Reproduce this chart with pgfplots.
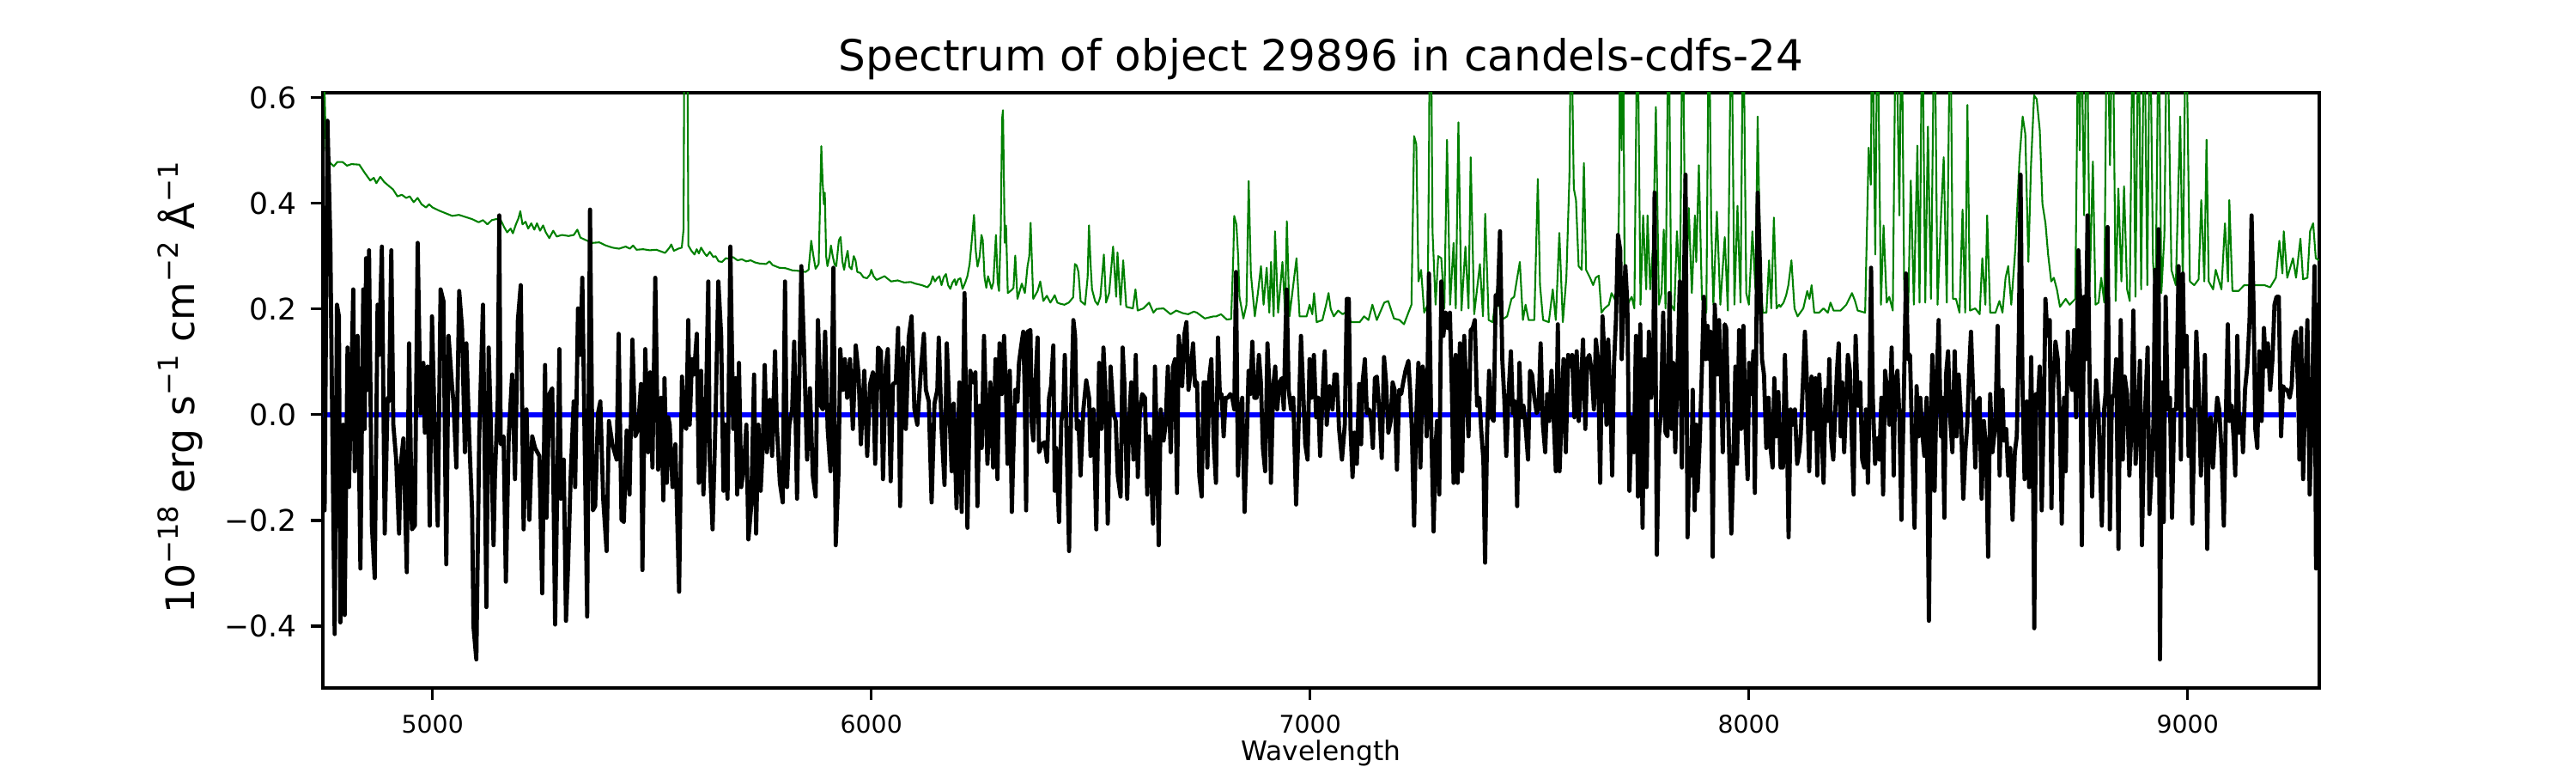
\documentclass[border=0pt]{standalone}
\usepackage{fontspec}
\setmainfont{DejaVu Sans}
\usepackage{pgfplots}
\pgfplotsset{compat=1.18}
\newcommand\sups[1]{\raisebox{0.42em}{\fontsize{7.7}{9}\selectfont #1}}
\begin{document}
\begin{tikzpicture}
\useasboundingbox (0,0) rectangle (720pt,216pt);
\begin{axis}[
  at={(90.24pt,23.76pt)}, anchor=south west,
  scale only axis, width=558pt, height=166.32pt,
  xmin=4750, xmax=9300, ymin=-0.517, ymax=0.609,
  axis line style={line width=0.78pt},
  tick align=outside, xtick pos=bottom, ytick pos=left,
  major tick length=3.43pt,
  tick style={line width=0.78pt, black},
  xtick={5000,6000,7000,8000,9000},
  xticklabels={5000,6000,7000,8000,9000},
  ytick={-0.4,-0.2,0,0.2,0.4,0.6},
  yticklabels={−0.4,−0.2,0.0,0.2,0.4,0.6},
  xticklabel style={font=\fontsize{6.8}{8}\selectfont, inner sep=0pt, yshift=-3.94pt},
  yticklabel style={font=\fontsize{8.3}{10}\selectfont, inner sep=0pt, xshift=-3.77pt},
  every axis plot/.append style={line join=round},
]
\addplot[color={rgb,255:red,0;green,128;blue,0}, line width=0.5pt] coordinates {
(4750,0.80)(4753,0.65)(4757,0.50)(4767,0.476)(4775,0.470)(4783,0.478)(4795,0.478)(4805,0.471)(4815,0.474)(4833,0.473)(4845,0.458)(4858,0.443)(4866,0.448)(4872,0.438)(4881,0.450)(4890,0.440)(4900,0.433)(4910,0.426)(4920,0.413)(4930,0.416)(4940,0.410)(4948,0.413)(4957,0.402)(4966,0.410)(4975,0.398)(4985,0.392)(4992,0.398)(5000,0.392)(5015,0.386)(5030,0.381)(5045,0.376)(5060,0.378)(5075,0.374)(5090,0.370)(5105,0.364)(5115,0.368)(5125,0.360)(5135,0.368)(5145,0.370)(5155,0.369)(5163,0.355)(5170,0.345)(5178,0.352)(5183,0.343)(5190,0.360)(5196,0.372)(5200,0.385)(5205,0.360)(5212,0.365)(5218,0.352)(5225,0.362)(5232,0.350)(5238,0.362)(5245,0.348)(5252,0.358)(5258,0.345)(5266,0.334)(5275,0.348)(5283,0.337)(5295,0.340)(5310,0.338)(5322,0.340)(5330,0.350)(5337,0.335)(5350,0.330)(5365,0.325)(5380,0.326)(5395,0.320)(5410,0.316)(5425,0.314)(5440,0.318)(5450,0.314)(5457,0.320)(5465,0.312)(5480,0.313)(5495,0.311)(5510,0.312)
(5520,0.309)(5530,0.306)(5540,0.316)(5544,0.322)(5550,0.310)(5560,0.314)(5568,0.316)(5572,0.35)(5574,0.75)(5578,0.80)(5581,0.70)(5583,0.320)(5590,0.310)(5597,0.303)(5602,0.313)(5607,0.305)(5612,0.316)(5620,0.305)(5625,0.300)(5632,0.308)(5640,0.298)(5645,0.300)(5652,0.290)(5660,0.289)(5668,0.296)(5676,0.295)(5685,0.298)(5695,0.292)(5705,0.294)(5715,0.290)(5725,0.292)(5735,0.288)(5745,0.286)(5760,0.285)(5768,0.290)(5775,0.283)(5790,0.278)(5805,0.277)(5820,0.273)(5835,0.272)(5850,0.270)(5857,0.274)(5863,0.329)(5868,0.300)(5873,0.276)(5880,0.285)(5886,0.508)(5889,0.440)(5892,0.398)(5894,0.42)(5897,0.300)(5900,0.281)(5905,0.300)(5908,0.320)(5912,0.300)(5916,0.285)(5920,0.281)(5926,0.330)(5930,0.336)(5934,0.290)(5938,0.274)(5942,0.295)(5946,0.310)(5950,0.280)(5955,0.275)(5960,0.300)(5964,0.292)(5968,0.270)(5975,0.268)(5982,0.260)(5990,0.258)(5997,0.265)(6000,0.274)(6005,0.262)(6012,0.255)(6020,0.258)(6030,0.262)(6036,0.258)(6045,0.252)(6060,0.254)(6075,0.250)(6090,0.251)(6100,0.248)(6115,0.245)(6128,0.241)(6135,0.248)(6140,0.262)(6145,0.252)(6150,0.258)(6155,0.262)(6160,0.245)(6165,0.260)(6170,0.266)(6175,0.245)(6180,0.238)(6185,0.250)(6190,0.256)(6193,0.245)(6198,0.256)(6203,0.258)(6208,0.238)(6214,0.250)(6219,0.262)(6224,0.285)(6229,0.330)(6234,0.378)(6238,0.310)(6242,0.280)(6247,0.300)(6251,0.340)(6254,0.330)(6258,0.260)(6262,0.240)(6266,0.262)(6270,0.250)(6274,0.238)(6278,0.250)
(6284,0.340)(6288,0.250)(6291,0.234)(6295,0.35)(6298,0.560)(6300,0.576)(6302,0.46)(6304,0.325)(6307,0.358)(6311,0.230)(6320,0.236)(6324,0.240)(6328,0.301)(6333,0.219)(6343,0.248)(6350,0.230)(6356,0.281)(6360,0.300)(6363,0.363)(6366,0.290)(6369,0.219)(6379,0.234)(6385,0.252)(6392,0.215)(6400,0.225)(6408,0.212)(6414,0.220)(6418,0.226)(6424,0.212)(6430,0.210)(6440,0.208)(6450,0.212)(6460,0.222)(6464,0.285)(6468,0.282)(6472,0.270)(6477,0.215)(6487,0.208)(6493,0.260)(6496,0.358)(6500,0.280)(6503,0.237)(6510,0.215)(6516,0.208)(6522,0.223)(6530,0.303)(6535,0.212)(6542,0.230)(6551,0.318)(6558,0.223)(6561,0.307)(6568,0.208)(6574,0.292)(6581,0.204)(6596,0.201)(6602,0.237)(6607,0.197)(6620,0.201)(6633,0.212)(6643,0.193)(6650,0.200)(6666,0.201)(6682,0.190)(6695,0.197)(6710,0.192)(6722,0.190)(6735,0.195)(6742,0.193)(6760,0.182)(6780,0.186)(6786,0.186)(6797,0.190)(6810,0.180)(6820,0.181)(6825,0.300)(6827,0.376)(6832,0.360)(6836,0.300)(6839,0.223)(6848,0.182)(6855,0.208)(6858,0.350)(6860,0.442)(6865,0.267)(6874,0.186)(6881,0.230)(6888,0.281)(6894,0.208)(6901,0.278)(6907,0.193)(6911,0.289)(6917,0.186)(6920,0.347)(6927,0.193)(6937,0.289)(6943,0.193)(6947,0.366)(6953,0.186)(6969,0.296)(6976,0.186)(6992,0.186)(6999,0.208)(7005,0.190)(7009,0.230)(7015,0.175)(7028,0.179)(7037,0.210)(7042,0.230)(7047,0.200)
(7054,0.186)(7064,0.197)(7074,0.190)(7080,0.193)(7094,0.175)(7113,0.175)(7123,0.186)(7133,0.179)(7142,0.208)(7152,0.179)(7169,0.212)(7178,0.215)(7191,0.182)(7204,0.179)(7214,0.171)(7224,0.193)(7231,0.208)(7237,0.527)(7242,0.512)(7247,0.252)(7253,0.274)(7260,0.193)(7268,0.208)(7271,0.5)(7273,0.8)(7276,0.7)(7279,0.347)(7286,0.208)(7292,0.30)(7299,0.296)(7306,0.201)(7312,0.520)(7319,0.208)(7327,0.325)(7332,0.201)(7338,0.553)(7345,0.197)(7354,0.318)(7361,0.201)(7366,0.487)(7374,0.190)(7387,0.285)(7394,0.186)(7399,0.380)(7407,0.179)(7416,0.175)(7426,0.237)(7436,0.179)(7449,0.186)(7459,0.219)(7465,0.223)(7472,0.259)(7478,0.289)(7485,0.179)(7491,0.208)(7498,0.179)(7511,0.179)(7519,0.446)(7524,0.245)(7531,0.179)(7544,0.175)(7553,0.237)(7560,0.179)(7568,0.344)(7576,0.175)(7584,0.259)(7591,0.45)(7595,0.8)(7598,0.6)(7601,0.428)(7606,0.406)(7612,0.281)(7619,0.274)(7624,0.476)(7629,0.274)(7638,0.259)(7645,0.245)(7651,0.259)(7658,0.263)(7664,0.193)(7671,0.201)(7681,0.208)(7687,0.230)(7694,0.219)(7700,0.208)(7704,0.4)(7707,0.8)(7710,0.5)(7713,0.8)(7717,0.237)(7723,0.208)(7733,0.223)(7739,0.201)(7746,0.8)(7753,0.208)(7759,0.377)(7766,0.237)(7769,0.377)(7775,0.237)(7782,0.325)(7788,0.582)(7795,0.208)(7801,0.230)(7806,0.350)
(7810,0.201)(7817,0.8)(7823,0.208)(7830,0.197)(7836,0.347)(7843,0.237)(7849,0.8)(7856,0.215)(7863,0.391)(7870,0.230)(7877,0.377)(7880,0.289)(7886,0.472)(7893,0.219)(7903,0.193)(7909,0.8)(7914,0.369)(7919,0.208)(7927,0.384)(7935,0.208)(7945,0.336)(7952,0.197)(7960,0.8)(7967,0.208)(7974,0.395)(7981,0.212)(7987,0.8)(7994,0.230)(8000,0.208)(8008,0.347)(8015,0.237)(8020,0.564)(8027,0.237)(8032,0.193)(8040,0.193)(8046,0.292)(8051,0.201)(8057,0.373)(8063,0.201)(8069,0.208)(8072,0.204)(8079,0.212)(8085,0.226)(8090,0.245)(8097,0.292)(8104,0.201)(8111,0.186)(8124,0.201)(8133,0.234)(8138,0.219)(8143,0.245)(8149,0.193)(8160,0.193)(8170,0.201)(8180,0.193)(8186,0.212)(8193,0.197)(8209,0.197)(8222,0.208)(8235,0.230)(8242,0.215)(8248,0.197)(8265,0.193)(8273,0.505)(8278,0.435)(8281,0.8)(8288,0.303)(8293,0.8)(8301,0.208)(8307,0.358)(8314,0.212)(8320,0.223)(8328,0.197)(8335,0.8)(8343,0.377)(8348,0.8)(8354,0.237)(8363,0.193)(8369,0.443)(8376,0.208)(8384,0.509)(8389,0.212)(8395,0.8)(8402,0.212)(8408,0.545)(8415,0.219)(8423,0.8)(8430,0.208)(8438,0.377)(8444,0.487)(8451,0.212)(8459,0.8)(8465,0.219)(8472,0.219)(8480,0.193)(8487,0.388)(8493,0.193)(8498,0.586)(8504,0.197)(8516,0.201)(8526,0.190)(8532,0.296)(8539,0.208)(8543,0.377)(8550,0.193)(8562,0.193)
(8571,0.215)(8578,0.193)(8585,0.259)(8591,0.281)(8598,0.208)(8607,0.311)(8617,0.487)(8624,0.564)(8630,0.531)(8637,0.289)(8643,0.472)(8650,0.604)(8656,0.597)(8663,0.538)(8669,0.399)(8676,0.362)(8682,0.303)(8689,0.252)(8695,0.259)(8702,0.237)(8709,0.204)(8722,0.219)(8731,0.208)(8744,0.219)(8751,0.8)(8754,0.5)(8757,0.8)(8764,0.377)(8770,0.8)(8777,0.252)(8784,0.479)(8790,0.208)(8797,0.212)(8803,0.259)(8810,0.212)(8816,0.8)(8823,0.472)(8829,0.8)(8836,0.215)(8842,0.428)(8849,0.252)(8855,0.432)(8862,0.237)(8868,0.215)(8875,0.8)(8881,0.223)(8888,0.8)(8894,0.237)(8901,0.8)(8908,0.245)(8914,0.8)(8921,0.289)(8927,0.223)(8934,0.8)(8940,0.230)(8947,0.340)(8953,0.8)(8963,0.274)(8973,0.245)(8983,0.564)(8989,0.245)(8996,0.8)(9005,0.252)(9015,0.245)(9025,0.256)(9031,0.406)(9038,0.252)(9043,0.520)(9048,0.252)(9058,0.237)(9064,0.274)(9077,0.237)(9085,0.362)(9092,0.252)(9095,0.406)(9102,0.234)(9116,0.234)(9129,0.245)(9142,0.245)(9155,0.245)(9175,0.245)(9188,0.241)(9201,0.259)(9209,0.329)(9216,0.267)(9219,0.347)(9227,0.259)(9240,0.296)(9247,0.259)(9257,0.333)(9263,0.256)(9273,0.259)(9279,0.347)(9286,0.362)(9292,0.296)(9299,0.292)
};
\addplot[blue, line width=1.4pt] coordinates {(4750,0) (9247,0)};
\addplot[black, line width=1.15pt] coordinates {
(4750,-0.041)(4754.0,-0.181)(4760.5,0.556)(4767.1,0.325)(4770.3,0.069)(4776.9,-0.415)(4782.1,0.208)(4786.6,0.186)(4789.9,-0.393)(4796.4,-0.019)(4799.7,-0.379)(4806.2,0.127)(4809.5,-0.137)(4816.0,0.105)(4819.3,0.237)(4822.5,-0.107)(4829.1,0.149)(4835.6,-0.291)(4842.1,0.237)(4845.4,-0.027)(4848.6,0.296)(4851.9,0.047)(4855.2,0.311)(4861.7,-0.210)(4868.2,-0.309)(4874.7,0.208)(4878.0,0.113)(4884.5,0.318)(4891.0,-0.225)(4897.6,0.032)(4900.8,0.025)(4906.0,0.311)(4910.6,-0.019)(4917.1,-0.085)(4923.7,-0.225)(4926.9,-0.100)(4933.5,-0.045)(4936.7,-0.151)(4941.3,-0.298)(4946.5,0.135)(4953.0,-0.217)(4959.6,-0.210)(4966.1,0.325)(4972.6,0.003)(4979.1,0.098)(4982.4,-0.034)(4988.9,0.091)(4993.5,-0.210)(4998.7,0.186)(5005.2,-0.034)(5011.8,-0.210)(5018.3,0.237)(5024.8,0.215)(5031.3,-0.283)(5036.5,0.149)(5044.4,0.054)(5047.6,0.025)(5054.2,-0.100)(5060.7,0.234)(5067.2,0.164)(5073.7,-0.071)(5077.0,0.135)(5083.5,-0.041)(5090.1,-0.181)(5093.3,-0.401)(5099.8,-0.463)(5106.4,-0.041)(5114.9,0.208)(5122.7,-0.364)(5127.9,0.127)(5132.5,-0.012)(5139.0,-0.247)(5142.2,-0.115)(5148.8,0.032)(5152.0,0.377)(5155.3,-0.056)(5161.8,-0.041)(5167.1,-0.316)(5173.6,-0.041)(5181.4,0.076)(5187.9,-0.122)(5194.5,0.179)(5201.0,0.245)(5207.5,-0.217)(5214.0,0.010)(5220.6,-0.199)(5227.1,-0.041)(5233.6,-0.063)(5243.4,-0.078)(5249.9,-0.338)(5256.4,0.094)(5259.7,-0.195)(5266.2,0.039)(5272.8,0.050)(5279.3,-0.397)(5289.1,0.124)(5292.3,-0.159)(5298.9,-0.085)(5304.1,-0.390)(5308.6,-0.291)(5315.2,-0.107)(5321.7,0.025)(5325.0,-0.137)(5331.5,0.201)(5336.7,0.113)(5341.3,0.259)(5347.8,-0.115)(5352.4,-0.382)(5358.9,0.388)(5365.4,-0.181)(5370.6,-0.173)(5377.2,0.003)(5382.4,0.025)(5388.9,-0.159)(5396.7,-0.258)(5402.0,-0.012)(5409.8,-0.056)(5419.6,-0.085)(5424.1,0.153)(5430.7,-0.199)(5435.9,-0.203)(5442.4,-0.030)(5448.9,-0.151)(5455.5,0.142)(5462.0,-0.041)(5468.5,-0.027)(5475.0,0.058)(5478.3,-0.294)(5484.8,0.124)(5491.3,-0.071)(5495.9,0.080)(5501.1,-0.100)(5507.6,0.259)(5514.2,-0.104)
(5520.8,0.032)(5526.0,-0.162)(5528.6,0.069)(5533.8,-0.129)(5537.1,-0.005)(5540.4,-0.019)(5546.9,-0.137)(5553.4,-0.056)(5561.9,-0.335)(5568.4,0.072)(5573.0,-0.019)(5578.2,-0.027)(5582.8,0.179)(5586.0,-0.019)(5591.2,0.105)(5595.8,0.076)(5602.3,0.153)(5606.9,-0.129)(5612.1,0.083)(5617.3,-0.151)(5621.9,-0.041)(5628.4,0.252)(5631.7,-0.085)(5638.2,-0.217)(5644.8,-0.012)(5651.3,0.252)(5657.8,0.149)(5663.0,-0.144)(5667.6,-0.019)(5672.2,-0.159)(5678.7,0.318)(5685.2,-0.027)(5690.4,0.069)(5694.3,-0.151)(5698.3,0.098)(5703.5,-0.137)(5710.0,-0.096)(5715.2,-0.019)(5719.8,-0.236)(5726.3,-0.173)(5732.8,0.076)(5737.4,-0.225)(5742.6,-0.019)(5747.8,-0.144)(5752.4,-0.063)(5757.0,0.094)(5762.2,-0.071)(5768.7,0.028)(5773.9,-0.078)(5780.5,0.120)(5785.0,-0.027)(5791.6,-0.129)(5798.1,-0.166)(5803.3,0.252)(5807.9,-0.137)(5813.1,-0.019)(5819.6,0.010)(5824.2,0.138)(5830.7,-0.159)(5837.2,0.131)(5840.5,0.281)(5847.0,0.113)(5853.6,-0.085)(5860.1,0.050)(5866.6,-0.115)(5873.1,-0.155)(5878.3,0.179)(5884.9,0.017)(5889.4,0.010)(5894.7,0.157)(5900.5,-0.027)(5907.1,-0.107)(5913.6,0.278)(5918.8,-0.247)(5925.3,-0.107)(5929.2,0.124)(5935.1,0.047)(5939.7,0.105)(5944.9,0.032)(5951.4,0.105)(5957.9,-0.027)(5964.5,0.131)(5971.0,0.076)(5976.2,-0.056)(5984.0,0.083)(5990.6,-0.078)(5997.1,0.058)(6003.6,0.080)(6008.8,-0.093)(6015.4,0.127)(6021.9,0.120)(6026.5,-0.122)(6033.0,0.091)(6037.6,0.124)(6044.1,-0.126)(6049.3,0.058)(6055.8,0.061)(6061.0,0.164)(6065.6,-0.173)(6072.1,0.127)(6078.7,-0.027)(6085.2,0.146)(6091.7,0.186)(6098.2,0.010)(6104.8,-0.019)(6113.2,0.087)(6119.8,0.153)(6124.3,0.047)(6130.9,0.025)(6137.4,-0.166)(6143.9,0.021)(6150.4,0.047)(6153.7,0.146)(6160.2,-0.027)(6166.8,-0.133)(6172.0,0.135)(6176.5,0.039)(6183.1,-0.107)(6187.6,0.021)(6194.2,-0.177)(6200.7,0.061)(6205.9,-0.184)(6212.4,0.230)(6219.0,-0.214)(6225.5,0.083)(6232.0,0.061)(6237.2,0.080)(6241.8,-0.173)(6246.4,0.017)(6251.6,-0.063)(6256.8,0.149)(6264.6,-0.093)(6271.2,0.061)(6277.7,-0.100)(6282.9,0.105)
(6287.5,-0.122)(6292.1,0.135)(6297.3,0.039)(6302.5,0.149)(6307.1,0.039)(6310.4,-0.093)(6315.6,0.083)(6320.2,-0.184)(6323.4,-0.078)(6328.0,0.047)(6333.2,0.025)(6336.5,0.098)(6341.7,0.131)(6346.3,0.157)(6349.5,0.047)(6352.8,-0.181)(6356.1,0.157)(6362.6,0.160)(6365.8,-0.019)(6369.1,-0.049)(6374.3,0.065)(6378.9,0.146)(6382.2,-0.071)(6388.7,-0.056)(6395.2,-0.052)(6400.4,-0.089)(6405.0,0.032)(6409.6,0.054)(6414.8,0.131)(6418.0,-0.144)(6421.3,-0.063)(6427.8,-0.203)(6433.0,-0.012)(6437.6,0.010)(6440.9,0.113)(6446.1,-0.085)(6450.7,-0.258)(6455.2,0.003)(6460.5,0.179)(6464.4,0.149)(6468.3,-0.027)(6472.2,-0.012)(6476.8,-0.115)(6483.3,0.010)(6489.8,0.065)(6496.3,0.032)(6499.6,-0.078)(6506.1,0.010)(6512.7,-0.217)(6519.2,0.098)(6524.4,-0.027)(6529.0,0.127)(6533.5,0.047)(6538.8,-0.206)(6545.3,0.091)(6551.8,0.003)(6557.0,-0.012)(6561.6,-0.115)(6568.1,-0.155)(6572.7,0.127)(6576.6,0.061)(6583.1,-0.159)(6587.7,-0.012)(6592.3,0.061)(6597.5,-0.085)(6602.7,0.113)(6607.3,-0.118)(6611.8,0.003)(6617.1,0.039)(6623.6,0.032)(6628.8,-0.151)(6633.4,-0.041)(6636.6,-0.071)(6641.9,-0.206)(6646.4,0.091)(6651.0,-0.063)(6654.9,-0.247)(6659.5,0.010)(6666.0,-0.049)(6670.6,-0.019)(6675.8,0.091)(6682.3,-0.071)(6687.5,0.091)(6692.1,0.105)(6696.7,-0.148)(6700.6,0.149)(6705.1,0.105)(6708.4,0.054)(6713.6,0.153)(6718.2,0.175)(6722.8,0.047)(6728.0,0.083)(6733.2,0.135)(6737.8,0.054)(6742.3,0.061)(6747.5,-0.115)(6752.8,-0.155)(6757.3,0.061)(6761.9,0.061)(6765.8,-0.100)(6770.4,0.072)(6774.9,0.105)(6780.2,-0.049)(6785.4,-0.129)(6790.0,0.146)(6794.5,0.032)(6798.4,0.039)(6803.0,-0.041)(6807.6,0.032)(6812.8,0.032)(6818.0,0.039)(6822.6,0.032)(6827.2,0.010)(6831.1,0.270)(6835.6,-0.115)(6840.2,-0.005)(6845.4,0.032)(6850.6,-0.184)(6855.2,-0.063)(6859.8,0.083)(6863.7,0.039)(6868.3,0.138)(6872.8,0.032)(6878.1,0.032)(6883.3,0.113)(6887.8,0.061)(6892.4,-0.063)(6897.6,-0.107)(6902.8,0.135)(6907.4,0.047)(6910.7,-0.129)(6915.9,0.054)(6920.5,0.091)(6925.0,0.010)(6930.3,0.061)(6935.5,0.069)(6940.0,0.010)(6943.3,0.135)(6946.6,0.237)(6951.1,0.047)(6956.4,0.010)(6961.6,0.032)(6968.1,-0.170)(6972.7,-0.049)(6979.2,0.149)(6983.8,0.054)(6989.0,-0.056)(6994.2,-0.085)(6998.8,0.105)(7003.3,0.032)(7008.6,0.113)(7013.8,-0.005)(7018.3,0.032)(7022.9,-0.078)(7028.1,0.032)(7033.3,0.120)(7037.9,-0.019)(7044.4,0.054)
(7051.0,0.010)(7055.6,0.076)(7060.8,0.076)(7066.0,-0.027)(7072.6,-0.085)(7079.1,-0.019)(7083.7,0.219)(7088.2,0.219)(7092.1,-0.027)(7096.7,-0.118)(7101.3,-0.034)(7106.5,-0.093)(7111.7,0.058)(7116.3,-0.056)(7119.6,0.061)(7124.8,0.105)(7129.3,0.003)(7134.6,0.010)(7139.1,-0.012)(7143.0,-0.063)(7147.6,0.069)(7152.2,0.072)(7158.7,-0.005)(7163.3,-0.082)(7168.5,0.109)(7173.1,0.061)(7178.3,-0.034)(7183.5,-0.012)(7188.1,0.061)(7192.6,0.047)(7197.9,-0.104)(7203.1,0.047)(7207.6,0.039)(7212.2,0.061)(7217.4,0.083)(7224.0,0.102)(7227.9,0.047)(7231.8,-0.027)(7237.0,-0.210)(7241.6,-0.012)(7246.8,0.098)(7251.4,-0.100)(7256.6,0.091)(7261.8,0.061)(7265.7,-0.041)(7270.9,0.267)(7276.2,-0.027)(7281.4,-0.221)(7285.9,-0.063)(7289.2,-0.012)(7294.4,-0.151)(7299.0,0.252)(7303.6,0.149)(7308.8,0.193)(7314.0,0.164)(7318.6,0.193)(7323.1,0.047)(7327.0,-0.129)(7331.6,0.113)(7336.2,-0.129)(7341.4,0.135)(7346.6,-0.107)(7351.2,0.149)(7355.8,0.047)(7361.0,-0.041)(7366.2,0.160)(7370.8,0.164)(7375.3,0.179)(7380.6,0.017)(7385.8,0.032)(7390.3,-0.034)(7394.9,-0.085)(7398.8,-0.280)(7403.4,-0.034)(7408.0,0.083)(7413.2,-0.005)(7418.4,-0.012)(7423.0,0.226)(7427.5,0.208)(7432.8,0.347)(7438.0,0.105)(7442.5,0.032)(7447.1,-0.078)(7452.3,0.039)(7457.6,0.120)(7462.1,0.003)(7466.7,0.025)(7471.9,-0.173)(7477.1,0.098)(7481.7,-0.005)(7486.3,0.017)(7491.5,-0.027)(7496.7,-0.085)(7501.3,0.083)(7505.8,0.076)(7511.1,0.032)(7516.3,0.003)(7520.8,0.010)(7525.4,0.135)(7530.6,-0.019)(7535.8,-0.071)(7540.4,0.039)(7545.0,-0.012)(7550.2,0.083)(7555.4,-0.012)(7560.0,-0.107)(7564.6,0.171)(7568.5,-0.107)(7573.0,-0.005)(7577.6,0.105)(7582.8,-0.071)(7588.0,0.113)(7592.6,0.091)(7597.2,0.113)(7602.4,-0.005)(7607.6,0.120)(7612.2,-0.012)(7616.8,0.047)(7622.0,0.142)(7627.2,-0.027)(7631.8,0.105)(7636.3,0.113)(7641.6,0.083)(7646.8,0.010)(7651.3,0.142)(7655.9,0.105)(7661.1,-0.129)(7666.4,0.186)(7670.9,0.105)(7675.5,-0.019)(7679.4,0.142)(7684.0,0.032)(7688.5,-0.115)(7692.4,0.091)(7697.0,0.179)(7701.6,0.340)(7706.8,0.311)(7710.1,0.105)(7714.6,0.208)(7718.5,0.281)(7723.1,0.208)(7727.7,-0.144)(7732.9,-0.005)(7738.1,-0.071)(7742.7,0.149)(7747.3,-0.155)(7752.5,0.171)(7757.7,-0.214)(7762.3,0.105)(7766.8,-0.137)(7772.1,0.157)(7777.3,0.032)(7781.8,0.061)(7785.1,0.420)(7790.3,-0.265)(7794.9,-0.041)(7799.5,0.003)(7804.7,0.193)
(7810.0,-0.034)(7814.5,-0.041)(7819.1,0.230)(7824.3,-0.027)(7827.6,0.098)(7832.2,-0.071)(7837.4,0.091)(7842.6,0.252)(7847.2,-0.100)(7851.7,0.223)(7855.6,0.454)(7860.2,-0.232)(7864.8,-0.063)(7868.7,-0.115)(7872.0,0.047)(7876.5,-0.181)(7879.8,-0.019)(7883.1,-0.144)(7888.3,-0.041)(7892.8,0.083)(7897.4,0.223)(7901.3,0.105)(7905.9,0.168)(7909.2,0.105)(7912.4,0.157)(7917.6,-0.269)(7922.2,0.208)(7927.4,0.076)(7932.0,0.179)(7936.6,0.061)(7940.5,-0.071)(7945.0,0.171)(7948.3,0.164)(7953.5,-0.019)(7960.0,-0.225)(7964.6,-0.093)(7969.2,0.091)(7973.1,-0.093)(7977.7,0.160)(7982.2,-0.027)(7987.5,0.168)(7992.0,-0.019)(7997.2,-0.122)(8000.5,0.098)(8005.7,0.039)(8010.3,0.120)(8013.6,-0.148)(8020.1,0.420)(8025.3,0.281)(8029.9,0.105)(8034.4,0.076)(8039.7,-0.063)(8044.9,0.032)(8049.4,-0.063)(8054.0,-0.100)(8057.9,0.069)(8062.5,-0.041)(8067.1,0.043)(8072.3,-0.100)(8077.5,-0.100)(8082.1,0.113)(8086.6,-0.027)(8090.5,-0.232)(8095.1,0.010)(8099.7,-0.019)(8104.9,0.010)(8110.1,-0.093)(8114.7,-0.071)(8118.0,-0.041)(8123.2,0.061)(8127.7,0.157)(8132.3,0.061)(8137.5,-0.107)(8142.7,0.072)(8147.3,-0.027)(8151.9,0.069)(8155.8,-0.115)(8160.4,0.076)(8164.9,-0.012)(8170.2,-0.129)(8174.7,0.047)(8179.9,-0.012)(8183.2,0.105)(8187.8,-0.049)(8192.3,-0.085)(8196.3,-0.005)(8200.8,0.083)(8204.7,0.135)(8209.3,-0.041)(8212.6,0.061)(8217.1,-0.071)(8221.0,0.010)(8225.6,0.113)(8230.2,0.083)(8234.1,-0.034)(8238.7,-0.151)(8243.2,0.149)(8248.5,0.017)(8253.7,0.061)(8258.2,-0.085)(8262.8,-0.100)(8266.7,0.010)(8271.3,-0.129)(8274.6,0.010)(8278.5,0.278)(8282.4,0.032)(8287.6,-0.093)(8292.8,-0.045)(8297.4,-0.085)(8302.0,0.032)(8305.9,-0.151)(8310.4,0.083)(8315.0,0.047)(8320.2,-0.019)(8325.4,0.127)(8330.0,-0.115)(8333.3,0.061)(8338.5,0.083)(8343.1,-0.005)(8347.6,-0.199)(8352.9,0.025)(8358.1,0.267)(8362.6,0.105)(8367.2,0.113)(8372.4,-0.063)(8377.6,-0.214)(8382.2,0.054)(8386.8,-0.041)(8390.7,0.032)(8395.3,-0.034)(8399.8,-0.078)(8405.1,0.032)(8410.3,-0.390)(8414.8,-0.005)(8418.1,0.113)(8423.3,-0.144)(8427.9,0.061)(8432.5,0.179)(8437.7,-0.041)(8441.0,0.032)(8445.5,-0.195)(8449.4,0.076)(8454.0,0.120)(8458.6,-0.005)(8463.8,-0.071)(8469.0,0.120)(8473.6,-0.041)(8478.1,0.076)(8483.4,-0.005)(8488.6,-0.159)(8493.2,-0.071)(8497.7,-0.019)(8501.6,0.076)(8506.2,0.157)(8510.8,0.047)(8516.0,-0.100)(8521.2,0.025)(8525.8,0.032)(8530.3,-0.159)(8535.6,-0.012)(8540.8,-0.071)(8545.3,-0.269)(8549.9,0.039)(8555.1,-0.071)(8561.6,-0.019)(8566.9,0.168)(8571.4,-0.115)
(8573.4,-0.027)(8578.0,0.047)(8581.3,-0.049)(8586.5,-0.027)(8591.1,-0.115)(8595.6,-0.063)(8600.9,-0.199)(8606.1,-0.071)(8610.6,-0.041)(8615.2,0.149)(8619.1,0.454)(8623.7,0.047)(8628.3,-0.122)(8633.5,0.025)(8638.7,-0.137)(8643.3,0.109)(8647.8,-0.122)(8650.4,-0.404)(8654.4,0.039)(8659.6,0.039)(8662.8,0.091)(8667.4,-0.181)(8672.6,0.025)(8675.9,0.219)(8680.5,0.149)(8685.7,0.179)(8689.6,-0.177)(8693.5,0.054)(8698.7,0.138)(8703.9,0.105)(8708.5,-0.005)(8713.1,-0.206)(8718.3,0.032)(8722.2,-0.107)(8726.8,0.157)(8731.4,0.076)(8736.6,0.047)(8741.1,0.160)(8745.7,-0.005)(8750.9,0.311)(8754.8,0.223)(8758.8,-0.247)(8764.0,0.223)(8767.9,0.105)(8771.8,0.377)(8777.0,0.039)(8782.2,-0.155)(8786.8,-0.019)(8791.4,0.065)(8796.6,0.010)(8799.9,-0.085)(8804.4,-0.210)(8809.7,0.010)(8812.9,0.039)(8817.5,0.355)(8822.7,-0.217)(8827.3,0.032)(8832.5,0.039)(8837.1,0.105)(8842.3,-0.254)(8847.5,0.179)(8852.1,-0.085)(8856.6,0.072)(8861.9,0.039)(8867.1,-0.115)(8871.6,-0.034)(8876.2,0.197)(8881.4,-0.093)(8886.6,-0.005)(8891.2,0.102)(8895.8,-0.247)(8901.0,-0.019)(8904.3,0.032)(8908.8,0.127)(8912.8,-0.188)(8917.3,-0.115)(8921.9,-0.019)(8925.8,0.274)(8930.4,-0.115)(8933.6,0.351)(8936.9,-0.463)(8941.5,0.061)(8945.4,-0.203)(8949.9,0.223)(8954.5,0.010)(8959.7,0.032)(8964.3,-0.195)(8969.5,0.010)(8974.1,0.010)(8979.3,0.281)(8984.5,-0.085)(8989.1,0.267)(8992.4,0.091)(8997.6,0.149)(9002.1,-0.078)(9006.7,0.010)(9010.6,-0.206)(9015.2,-0.019)(9019.8,0.157)(9025.0,0.054)(9030.2,-0.115)(9034.8,-0.027)(9039.3,0.113)(9044.6,-0.254)(9048.5,-0.012)(9052.4,-0.005)(9057.6,-0.100)(9062.8,-0.019)(9067.4,0.032)(9072.0,0.010)(9077.2,-0.071)(9082.4,-0.210)(9087.0,-0.005)(9091.5,0.171)(9095.4,-0.012)(9100.0,0.017)(9104.6,-0.041)(9108.5,-0.115)(9113.1,0.149)(9117.6,-0.034)(9122.9,-0.005)(9126.1,-0.071)(9130.7,0.047)(9135.9,0.091)(9141.1,0.179)(9145.7,0.377)(9150.3,0.201)(9154.2,-0.027)(9158.7,-0.063)(9163.3,0.120)(9168.5,-0.012)(9173.8,0.164)(9178.3,0.091)(9182.9,0.135)(9188.1,0.047)(9193.3,0.105)(9197.9,0.208)(9202.5,0.223)(9207.7,0.223)(9212.9,-0.041)(9217.5,0.054)(9222.0,0.047)(9227.3,0.047)(9232.5,0.032)(9237.1,0.054)(9241.6,0.142)(9246.8,0.157)(9252.1,0.039)(9254.7,-0.085)(9258.6,0.164)(9263.1,-0.122)(9267.7,0.039)(9272.9,0.179)(9278.1,-0.151)(9282.7,-0.012)(9289.2,0.281)(9292.5,-0.291)(9295.7,0.208)(9299.0,-0.290)
};
\end{axis}
\node[anchor=base, font=\fontsize{12}{14}\selectfont] at (369.2pt,196.1pt) {Spectrum of object 29896 in candels-cdfs-24};
\node[anchor=base, font=\fontsize{7.5}{9}\selectfont] at (369.2pt,3.43pt) {Wavelength};
\node[anchor=base, rotate=90, font=\fontsize{11}{13}\selectfont] at (54.3pt,107.6pt) {10\sups{−18} erg s\sups{−1} cm\sups{−2} Å\sups{−1}};
\end{tikzpicture}
\end{document}
